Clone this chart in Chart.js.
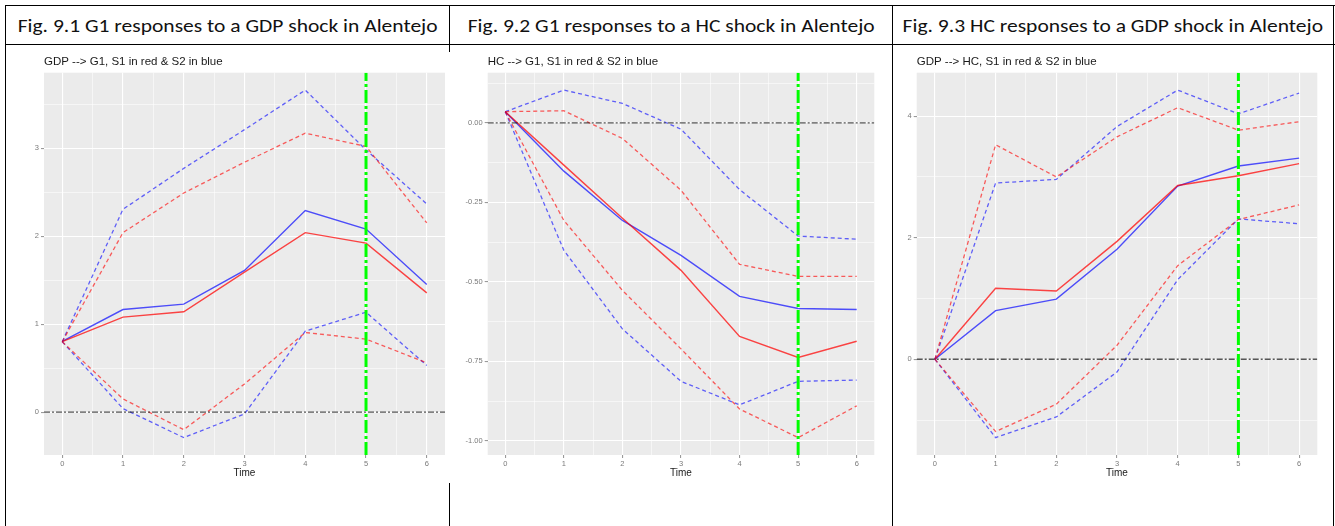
<!DOCTYPE html>
<html><head><meta charset="utf-8">
<script src="https://cdn.jsdelivr.net/npm/chart.js@4.4.1/dist/chart.umd.min.js"></script>
<style>
html,body{margin:0;padding:0;background:#fff;}
body{width:1335px;height:526px;overflow:hidden;position:relative;}
.ln{position:absolute;background:#000;}
.hdr{position:absolute;top:14px;height:24px;text-align:center;white-space:nowrap;font-family:Carlito,"Open Sans",Lato,sans-serif;font-weight:400;font-size:18px;line-height:24px;color:#111;}
.hdr span{display:inline-block;transform-origin:center center;}
canvas{position:absolute;}
</style></head><body>
<div class="ln" style="left:5px;top:5px;width:1330px;height:1px"></div>
<div class="ln" style="left:5px;top:44px;width:1330px;height:1px"></div>
<div class="ln" style="left:5px;top:5px;width:1px;height:521px"></div>
<div class="ln" style="left:449px;top:5px;width:1px;height:47px"></div>
<div class="ln" style="left:449px;top:483px;width:1px;height:43px"></div>
<div class="ln" style="left:892px;top:5px;width:1px;height:521px"></div>
<div class="ln" style="left:1333px;top:5px;width:1px;height:521px"></div>

<div class="hdr" style="left:6px;width:443px"><span id="h1"></span></div>
<div class="hdr" style="left:450px;width:442px"><span id="h2"></span></div>
<div class="hdr" style="left:893px;width:440px"><span id="h3"></span></div>

<canvas id="c1" width="441" height="437" style="left:7px;top:46px"></canvas>
<canvas id="c2" width="440" height="437" style="left:451px;top:46px"></canvas>
<canvas id="c3" width="439" height="437" style="left:894px;top:46px"></canvas>

<script>
// ---------- data ----------
const HEADERS = [
  "Fig. 9.1 G1 responses to a GDP shock in Alentejo",
  "Fig.  9.2 G1 responses to a HC shock in Alentejo",
  "Fig. 9.3 HC responses to a GDP shock in Alentejo"
];
const SUBTITLES = [
  "GDP --> G1, S1 in red & S2 in blue",
  "HC --> G1, S1 in red & S2 in blue",
  "GDP --> HC, S1 in red & S2 in blue"
];
const X_TITLE = "Time";
const TIME = [0, 1, 2, 3, 4, 5, 6];
const X_BREAKS = [0, 1, 2, 3, 4, 5, 6];
const SHOCK_TIME = 5;
const ZERO_LINE = 0;

// Fig 9.1  GDP -> G1
const P1_S1     = [0.80, 1.08, 1.14, 1.59, 2.04, 1.92, 1.355];
const P1_S1_UP  = [0.80, 2.04, 2.49, 2.84, 3.17, 3.02, 2.15];
const P1_S1_LO  = [0.80, 0.15, -0.20, 0.32, 0.905, 0.83, 0.56];
const P1_S2     = [0.805, 1.166, 1.227, 1.61, 2.29, 2.08, 1.45];
const P1_S2_UP  = [0.80, 2.305, 2.77, 3.21, 3.66, 2.98, 2.365];
const P1_S2_LO  = [0.80, 0.04, -0.29, -0.02, 0.92, 1.135, 0.53];
const P1_Y_BREAKS = [0, 1, 2, 3];

// Fig 9.2  HC -> G1
const P2_S1     = [0.035, -0.133, -0.30, -0.464, -0.672, -0.738, -0.687];
const P2_S1_UP  = [0.035, 0.038, -0.049, -0.212, -0.445, -0.483, -0.483];
const P2_S1_LO  = [0.035, -0.307, -0.527, -0.711, -0.90, -0.99, -0.89];
const P2_S2     = [0.035, -0.152, -0.307, -0.417, -0.546, -0.584, -0.587];
const P2_S2_UP  = [0.035, 0.103, 0.061, -0.02, -0.21, -0.356, -0.366];
const P2_S2_LO  = [0.035, -0.401, -0.648, -0.813, -0.887, -0.813, -0.809];
const P2_Y_BREAKS = [-1, -0.75, -0.5, -0.25, 0];

// Fig 9.3  GDP -> HC
const P3_S1     = [0, 1.168, 1.124, 1.94, 2.86, 3.02, 3.22];
const P3_S1_UP  = [0, 3.53, 3.00, 3.66, 4.14, 3.77, 3.91];
const P3_S1_LO  = [0, -1.19, -0.74, 0.23, 1.54, 2.30, 2.54];
const P3_S2     = [0, 0.80, 0.99, 1.81, 2.85, 3.18, 3.31];
const P3_S2_UP  = [0, 2.90, 2.96, 3.83, 4.43, 4.04, 4.38];
const P3_S2_LO  = [0, -1.29, -0.95, -0.21, 1.31, 2.31, 2.23];
const P3_Y_BREAKS = [0, 2, 4];

// ---------- styling ----------
const FONT = '"Liberation Sans", Arial, Helvetica, sans-serif';
const RED = 'rgba(255,0,0,0.72)';
const BLUE = 'rgba(0,0,255,0.68)';
const RED_D = 'rgba(255,0,0,0.62)';
const BLUE_D = 'rgba(0,0,255,0.6)';

function expandRange(arrs, extra) {
  let lo = Infinity, hi = -Infinity;
  arrs.forEach(a => a.forEach(v => { lo = Math.min(lo, v); hi = Math.max(hi, v); }));
  extra.forEach(v => { lo = Math.min(lo, v); hi = Math.max(hi, v); });
  const d = (hi - lo) * 0.05;
  return [lo - d, hi + d];
}
function withMinor(br, lo, hi) {
  const step = br[1] - br[0];
  const out = [];
  for (let v = br[0] - step; v <= br[br.length - 1] + step + 1e-9; v += step / 2) {
    if (v >= lo - 1e-9 && v <= hi + 1e-9) out.push(Math.round(v * 1e6) / 1e6);
  }
  return out;
}
const isIn = (arr, v) => arr.some(b => Math.abs(b - v) < 1e-6);

const ggPlugin = {
  id: 'gg',
  beforeDraw(chart, args, o) {
    const {ctx, chartArea: a} = chart;
    ctx.save();
    ctx.fillStyle = '#EBEBEB';
    ctx.fillRect(a.left, a.top, a.right - a.left, a.bottom - a.top);
    ctx.restore();
  },
  afterDatasetsDraw(chart, args, o) {
    const {ctx, chartArea: a, scales: {x, y}} = chart;
    ctx.save();
    ctx.beginPath(); ctx.rect(a.left, a.top, a.right - a.left, a.bottom - a.top); ctx.clip();
    const yz = y.getPixelForValue(o.hline);
    ctx.strokeStyle = 'rgba(30,30,30,0.75)'; ctx.lineWidth = 1.4; ctx.setLineDash([6, 2, 2, 2]);
    ctx.beginPath(); ctx.moveTo(a.left, yz); ctx.lineTo(a.right, yz); ctx.stroke();
    const xv = x.getPixelForValue(o.vline);
    ctx.strokeStyle = '#00FF00'; ctx.lineWidth = 3; ctx.setLineDash([13, 3, 3, 3]);
    ctx.beginPath(); ctx.moveTo(xv, a.bottom); ctx.lineTo(xv, a.top); ctx.stroke();
    ctx.restore();
  },
  afterDraw(chart, args, o) {
    const {ctx, chartArea: a} = chart;
    ctx.save();
    ctx.font = '11.5px ' + FONT;
    ctx.fillStyle = '#1a1a1a';
    ctx.textBaseline = 'middle';
    ctx.textAlign = 'left';
    ctx.fillText(o.text, a.left, a.top - 10.5);
    ctx.restore();
  }
};

function build(id, sub, s1, s1u, s1l, s2, s2u, s2l, yBreaks, fmt, wY, padL, padR) {
  const [ylo, yhi] = expandRange([s1, s1u, s1l, s2, s2u, s2l], [ZERO_LINE]);
  const xlo = TIME[0] - 0.05 * (TIME[TIME.length - 1] - TIME[0]);
  const xhi = TIME[TIME.length - 1] + 0.05 * (TIME[TIME.length - 1] - TIME[0]);
  const yTicks = withMinor(yBreaks, ylo, yhi);
  const xTicks = withMinor(X_BREAKS, xlo, xhi);
  const pts = arr => TIME.map((t, i) => ({x: t, y: arr[i]}));
  const ds = (arr, col, dashed) => ({
    data: pts(arr), borderColor: col, borderWidth: dashed ? 1.3 : 1.4,
    borderDash: dashed ? [4, 3] : [], pointRadius: 0, tension: 0, fill: false
  });
  const gridOpts = (majors) => ({
    color: '#FFFFFF',
    lineWidth: c => (c.tick && isIn(majors, c.tick.value)) ? 1.1 : 0.55,
    tickColor: c => (c.tick && isIn(majors, c.tick.value)) ? '#9a9a9a' : 'rgba(0,0,0,0)',
    tickLength: 3, drawTicks: true
  });
  return new Chart(document.getElementById(id), {
    type: 'line',
    data: {
      datasets: [
        ds(s1u, RED_D, true), ds(s1l, RED_D, true),
        ds(s2u, BLUE_D, true), ds(s2l, BLUE_D, true),
        ds(s1, RED, false), ds(s2, BLUE, false)
      ]
    },
    plugins: [ggPlugin],
    options: {
      responsive: false, animation: false, devicePixelRatio: 1,
      layout: {padding: {left: padL, right: padR, top: 26.7, bottom: 4}},
      plugins: {legend: {display: false}, tooltip: {enabled: false},
        gg: {text: sub, hline: ZERO_LINE, vline: SHOCK_TIME}},
      scales: {
        x: {
          type: 'linear', min: xlo, max: xhi,
          afterBuildTicks: s => { s.ticks = xTicks.map(v => ({value: v})); },
          afterFit: s => { s.height = 24; s.paddingLeft = 0; s.paddingRight = 0; },
          border: {display: false},
          grid: gridOpts(X_BREAKS),
          ticks: {autoSkip: false, maxRotation: 0, padding: 1, color: '#7a7a7a',
            font: {family: FONT, size: 7.5},
            callback: v => isIn(X_BREAKS, v) ? String(Math.round(v)) : ''},
          title: {display: true, text: X_TITLE, color: '#1a1a1a', padding: {top: 0, bottom: 0},
            font: {family: FONT, size: 10}}
        },
        y: {
          type: 'linear', min: ylo, max: yhi,
          afterBuildTicks: s => { s.ticks = yTicks.map(v => ({value: v})); },
          afterFit: s => { s.width = wY; s.paddingTop = 0; s.paddingBottom = 0; },
          border: {display: false},
          grid: gridOpts(yBreaks),
          ticks: {autoSkip: false, padding: 2, color: '#7a7a7a',
            font: {family: FONT, size: 7.5},
            callback: v => isIn(yBreaks, v) ? fmt(v) : ''}
        }
      }
    }
  });
}

const fmtInt = v => String(Math.round(v));
const fmt2 = v => v.toFixed(2);

function fitHeaders() {
  const ids = ['h1', 'h2', 'h3'];
  ids.forEach((id, i) => { document.getElementById(id).textContent = HEADERS[i]; });
  const w = document.getElementById('h1').getBoundingClientRect().width;
  const k = 420 / w;
  ids.forEach(id => { document.getElementById(id).style.transform = 'scaleX(' + k + ')'; });
}
fitHeaders();

build('c1', SUBTITLES[0], P1_S1, P1_S1_UP, P1_S1_LO, P1_S2, P1_S2_UP, P1_S2_LO, P1_Y_BREAKS, fmtInt, 24, 13, 3);
build('c2', SUBTITLES[1], P2_S1, P2_S1_UP, P2_S1_LO, P2_S2, P2_S2_UP, P2_S2_LO, P2_Y_BREAKS, fmt2, 28, 8.7, 16.7);
build('c3', SUBTITLES[2], P3_S1, P3_S1_UP, P3_S1_LO, P3_S2, P3_S2_UP, P3_S2_LO, P3_Y_BREAKS, fmtInt, 14, 8.7, 15.7);
</script>
</body></html>
